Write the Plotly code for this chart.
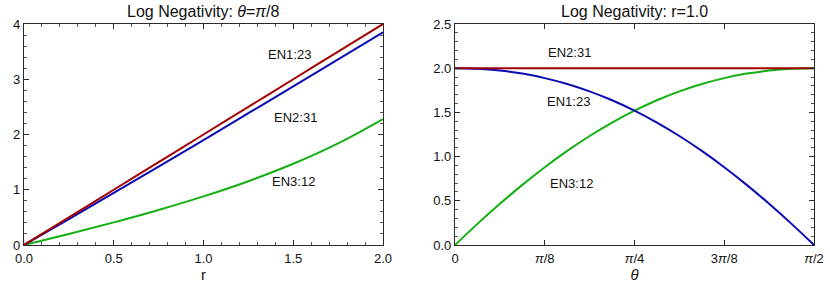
import math
import plotly.graph_objects as go

# ---------------- data ----------------
# Left panel: theta = pi/8, varying r
r_vals = [0.0, 0.25, 0.5, 0.75, 1.0, 1.25, 1.5, 1.75, 2.0]
en1_r = [0.0, 0.50, 1.00, 1.50, 2.00, 2.50, 3.00, 3.50, 4.00]        # EN1:23 (red)
en2_r = [0.0, 0.47, 0.945, 1.42, 1.90, 2.385, 2.87, 3.36, 3.85]     # EN2:31 (blue)
en3_r = [0.0, 0.20, 0.41, 0.635, 0.88, 1.155, 1.47, 1.84, 2.28]     # EN3:12 (green)

# Right panel: r = 1.0, varying theta (in units of pi/8)
theta_units = [0, 0.25, 0.5, 0.75, 1.0, 1.25, 1.5, 1.75, 2.0,
               2.25, 2.5, 2.75, 3.0, 3.25, 3.5, 3.75, 4.0]
en_red_t = [2.0] * 17
en_blue_t = [2.0, 1.9935, 1.9734, 1.9388, 1.888, 1.8217, 1.7383, 1.6377, 1.52,
             1.385, 1.2331, 1.0645, 0.88, 0.6802, 0.4662, 0.239, 0.0]
en_green_t = [0.0, 0.239, 0.4662, 0.6802, 0.88, 1.0645, 1.2331, 1.385, 1.52,
              1.6377, 1.7383, 1.8217, 1.888, 1.9388, 1.9734, 1.9935, 2.0]

theta_ticktext = ["0", "<i>π</i>/8", "<i>π</i>/4", "3<i>π</i>/8", "<i>π</i>/2"]

# ---------------- styling ----------------
RED = "#a30000"
BLUE = "#0a0ab4"
GREEN = "#12b012"
FRAME = "#2a2a2a"
FONT = "Liberation Sans, Arial, sans-serif"

theta = [u * math.pi / 8 for u in theta_units]
theta_ticks = [k * math.pi / 8 for k in range(5)]

fig = go.Figure()

def line(x, y, color, xa, ya):
    fig.add_trace(go.Scatter(x=x, y=y, mode="lines", xaxis=xa, yaxis=ya,
                             line=dict(color=color, width=2, shape="spline", smoothing=1.0),
                             showlegend=False, hoverinfo="skip"))

line(r_vals, en3_r, GREEN, "x", "y")
line(r_vals, en2_r, BLUE, "x", "y")
line(r_vals, en1_r, RED, "x", "y")

line(theta, en_green_t, GREEN, "x2", "y2")
line(theta, en_blue_t, BLUE, "x2", "y2")
line(theta, en_red_t, RED, "x2", "y2")

axis_common = dict(showline=True, linecolor=FRAME, linewidth=1.2, mirror="allticks",
                   ticks="inside", ticklen=5, tickwidth=1, tickcolor=FRAME,
                   showgrid=False, zeroline=False, automargin=False,
                   tickfont=dict(family=FONT, size=13, color="#111"))

minor_common = dict(ticks="inside", ticklen=2.5, tickwidth=1, tickcolor="#555", showgrid=False)
title_axis_font = dict(family=FONT, size=15, color="#111")

fig.update_layout(
    width=830, height=286,
    margin=dict(l=24, r=16, t=24, b=41, autoexpand=False),
    paper_bgcolor="white", plot_bgcolor="white",
    font=dict(family=FONT, size=12, color="#111"),
    xaxis=dict(domain=[0, 0.4544], range=[0, 2], tickvals=[0, 0.5, 1.0, 1.5, 2.0],
               ticktext=["0.0", "0.5", "1.0", "1.5", "2.0"],
               minor=dict(dtick=0.1, tick0=0, **minor_common),
               ticklabelstandoff=1,
               title=dict(text="r", font=title_axis_font, standoff=2),
               anchor="y", **axis_common),
    yaxis=dict(domain=[0, 1], range=[0, 4], tickvals=[0, 1, 2, 3, 4],
               ticktext=["0", "1", "2", "3", "4"],
               minor=dict(dtick=0.2, tick0=0, **minor_common),
               anchor="x", **axis_common),
    xaxis2=dict(domain=[0.5456, 1], range=[0, math.pi / 2], tickvals=theta_ticks,
                ticktext=theta_ticktext,
                ticklabelstandoff=1,
                title=dict(text="<i>θ</i>", font=title_axis_font, standoff=2),
                anchor="y2", **axis_common),
    yaxis2=dict(domain=[0, 1], range=[0, 2.5], tickvals=[0, 0.5, 1.0, 1.5, 2.0, 2.5],
                ticktext=["0.0", "0.5", "1.0", "1.5", "2.0", "2.5"],
                minor=dict(dtick=0.1, tick0=0, **minor_common),
                anchor="x2", **axis_common),
)

ann_font = dict(family=FONT, size=13, color="#111")
title_font = dict(family=FONT, size=16, color="#111")

annotations = [
    # titles
    dict(text="Log Negativity: <i>θ</i>=<i>π</i>/8", x=0.2272, y=1.0, xref="paper", yref="paper",
         xanchor="center", yanchor="bottom", yshift=2, showarrow=False, font=title_font),
    dict(text="Log Negativity: r=1.0", x=0.7728, y=1.0, xref="paper", yref="paper",
         xanchor="center", yanchor="bottom", yshift=2, showarrow=False, font=title_font),
    # left labels
    dict(text="EN1:23", x=1.48, y=3.45, xref="x", yref="y", showarrow=False, font=ann_font),
    dict(text="EN2:31", x=1.51, y=2.31, xref="x", yref="y", showarrow=False, font=ann_font),
    dict(text="EN3:12", x=1.50, y=1.15, xref="x", yref="y", showarrow=False, font=ann_font),
    # right labels
    dict(text="EN2:31", x=0.501, y=2.18, xref="x2", yref="y2", showarrow=False, font=ann_font),
    dict(text="EN1:23", x=0.497, y=1.62, xref="x2", yref="y2", showarrow=False, font=ann_font),
    dict(text="EN3:12", x=0.510, y=0.70, xref="x2", yref="y2", showarrow=False, font=ann_font),
]
fig.update_layout(annotations=annotations)

fig.write_html("out.html",
               config={"displayModeBar": False},
               post_script="document.body.style.margin='0';document.body.style.overflow='hidden';")
